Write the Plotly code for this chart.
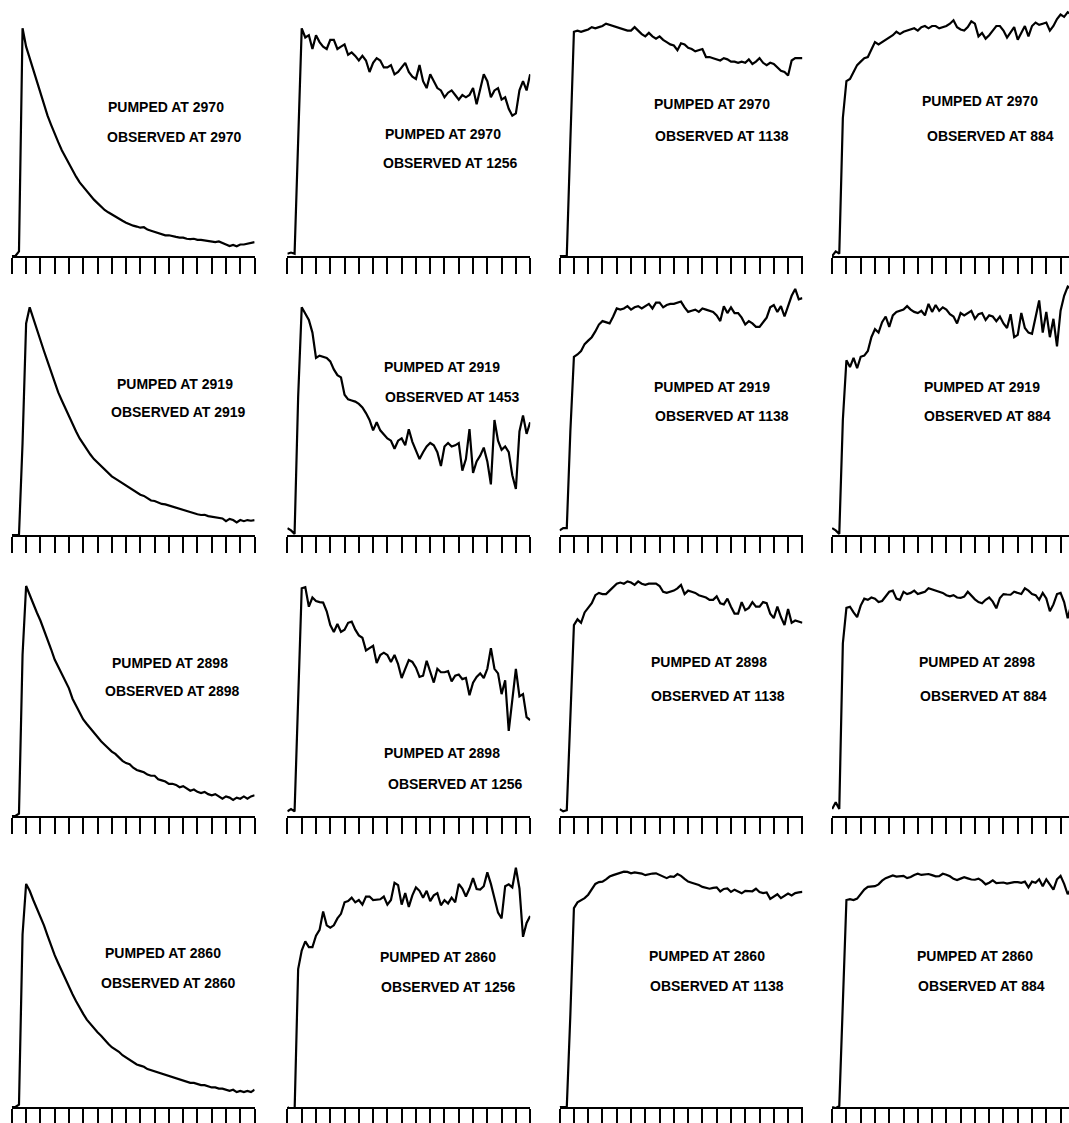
import plotly.graph_objects as go

# ---------------- data ----------------
# sample times in tick units (18 ticks = 0..17)
TIME = [0.0, 0.25, 0.5, 0.75, 1.0, 1.25, 1.5, 1.75, 2.0, 2.25, 2.5, 2.75, 3.0, 3.25, 3.5, 3.75,
        4.0, 4.25, 4.5, 4.75, 5.0, 5.25, 5.5, 5.75, 6.0, 6.25, 6.5, 6.75, 7.0, 7.25, 7.5, 7.75,
        8.0, 8.25, 8.5, 8.75, 9.0, 9.25, 9.5, 9.75, 10.0, 10.25, 10.5, 10.75, 11.0, 11.25, 11.5, 11.75,
        12.0, 12.25, 12.5, 12.75, 13.0, 13.25, 13.5, 13.75, 14.0, 14.25, 14.5, 14.75, 15.0, 15.25, 15.5, 15.75,
        16.0, 16.25, 16.5, 16.75, 17.0]

PUMPED = [2970, 2919, 2898, 2860]
OBSERVED = [[2970, 1256, 1138, 884],
            [2919, 1453, 1138, 884],
            [2898, 1256, 1138, 884],
            [2860, 1256, 1138, 884]]

r1c1 = [0, 0, 2, 99, 91, 86, 80, 75, 70, 65, 61, 57, 53, 49.5, 46, 43, 40, 37, 34.5, 32,
        30, 28, 26, 24.5, 23, 21.5, 20, 19, 18, 17, 16, 15.3, 14.5, 13.8, 13.2, 12.8,
        12.3, 12.5, 11.5, 11, 10.5, 10, 9.5, 9, 9, 8.5, 8.3, 8, 8, 7.5, 7.3, 7.5,
        7, 7, 6.8, 6.5, 6.5, 6, 6.3, 5.5, 5, 4.3, 4.8, 4.2, 5, 5, 5.3, 5.5, 6]
r1c2 = [1, 1.5, 1, 55, 99, 95, 96, 90, 96, 93, 91, 90, 94, 94, 90, 91, 92, 87.5, 88.5, 87,
        85, 87, 85, 80, 84, 86, 85, 82, 82, 83, 79, 80, 82, 84, 80, 78,
        77, 83, 76, 73, 79, 76, 73, 72, 69, 71, 72, 70, 68, 70, 69, 70,
        73, 66, 72, 79, 76, 69, 72, 73, 68, 69, 64, 61, 62, 72, 76, 72, 79]
r1c3 = [0, 0, 0, 50, 97.5, 98, 97.5, 98, 98.5, 99.5, 99, 99.5, 100, 101, 100.5, 100,
        99.5, 99, 98.5, 98, 98, 99.5, 98, 96.5, 95.5, 97, 95.5, 94.5, 95.5, 94, 93, 92,
        91.5, 89.5, 92.5, 92, 90.5, 90, 89, 89.5, 90, 86.5, 86.5, 86, 85.5, 85, 86, 85.5,
        84.5, 84.5, 84, 84.5, 84, 85.5, 83.5, 84.5, 86, 84, 83, 84, 83.5, 82, 80.5, 80,
        78.5, 85, 86, 86, 86]
r1c4 = [0, 2, 1, 60, 76, 77, 80, 83, 84.5, 86, 86.5, 90, 93, 92, 93, 94, 95, 96, 97.5, 96.5,
        97.5, 98, 98.5, 99, 98, 99.5, 100, 99, 100, 100, 99, 99.5, 100, 101, 102.5, 99.5,
        98.5, 98, 99.5, 102, 101, 95.5, 97, 94.5, 96, 98, 100, 100, 98, 95, 97, 99.5,
        94, 97, 100, 95.5, 100, 101.5, 100.5, 101, 101.5, 98, 100, 103, 105, 104, 106, 105, 106]

r2c1 = [0, 0, 0, 40, 92, 99, 94, 89, 84.5, 80, 75.5, 71, 66, 62, 58.5, 55, 51.5, 48, 45, 42,
        39.5, 37, 35, 33, 31.5, 30, 28.5, 27, 25.5, 24.5, 23.5, 22.5, 21.5, 20.5, 19.5, 18.5,
        17.5, 17, 16, 15, 14.8, 14, 13.5, 13.3, 12.8, 12.5, 12, 11.3, 11, 10.5, 10, 9.5,
        9, 8.7, 8.8, 8.2, 8, 7.5, 7.6, 7.2, 6, 7, 6.5, 5.5, 6.5, 6, 6.5, 6.2, 6.5]
r2c2 = [3, 2, 0.5, 60, 99, 96.5, 93.5, 88, 77, 78, 77.5, 77, 75.5, 72, 69.5, 68.5,
        61, 59, 58.5, 58, 57, 55.5, 53, 50, 45.5, 49, 45.5, 43.5, 42, 41, 37.5, 41,
        42, 39, 46, 40.5, 36.5, 33, 36, 38.5, 40, 39, 36, 30, 38.5, 40, 38.5, 39,
        40, 28, 33, 46, 27, 32, 34.5, 38, 32, 22, 50, 41, 37, 38.5, 36, 26, 20, 45, 52, 44, 49]
r2c3 = [2, 3, 3, 45, 77.5, 78.5, 80, 83, 84.5, 86, 88.5, 91.5, 93, 92.5, 92, 95,
        98.5, 98, 98.5, 99.5, 98, 99, 99.5, 98.5, 99.5, 100.5, 98.5, 101, 101, 99, 100, 100.5,
        100.5, 101, 101.5, 99, 97, 97.5, 98, 97, 98.5, 98, 97.5, 97, 95.5, 93, 99.5, 96.5,
        99, 96.5, 96.5, 94.5, 91.5, 93, 92, 90.5, 90.5, 92.5, 94.5, 99, 100, 97, 99.5, 95,
        100, 104, 107, 102.5, 103]
r2c4 = [3, 2, 0.5, 50, 76, 73, 77, 72.5, 77.5, 78, 80, 86, 89.5, 88, 92.5, 95,
        90.5, 95.5, 97, 97.5, 98, 99.5, 98, 97, 96.5, 97.5, 95.5, 100.5, 97, 100, 97.5, 99,
        98, 96, 95, 92, 96.5, 95.5, 96.5, 97.5, 94, 96, 96.5, 93.5, 95.5, 95, 93, 95,
        92, 90, 96, 86, 87, 96.5, 90, 88, 87.5, 95, 102, 88, 97, 86, 94, 82,
        97.5, 104, 108, 107, 108]

r3c1 = [0, 0, 1, 70, 100, 96, 92, 88.5, 85, 81, 77, 72.5, 68, 65, 62, 59, 55.5, 51, 48, 45,
        42, 40, 38, 36.5, 34, 32.5, 31, 29.5, 28, 27, 25.5, 24, 23, 22.5, 21, 20,
        19.5, 19, 18, 17.5, 17.5, 16, 15.5, 15, 14, 14, 13.5, 12.5, 13, 12, 11, 11.5,
        10.5, 10, 10.5, 9.5, 9, 9.5, 8.5, 7.5, 8.5, 8, 7, 8, 7.5, 8.5, 7.5, 8.5, 9]
r3c2 = [2, 3, 2, 55, 99, 99.5, 91, 95, 93.5, 93, 92.8, 89, 83, 80, 83.5, 80,
        81, 84, 84.5, 81, 78.5, 77.5, 72, 73, 74, 66.5, 70, 71, 70, 67, 70, 66,
        60, 64, 67.8, 67, 64.5, 60.5, 61, 67.5, 63, 58, 64, 62.5, 62.5, 63, 58.5, 61,
        61.5, 59.5, 60, 52.5, 58, 60.5, 62, 60, 64, 73, 64, 62, 53, 59, 37, 50,
        64, 52, 53, 43, 41.7]
r3c3 = [3, 2, 2.5, 40, 83, 85.5, 84, 88.5, 90.5, 92.5, 96, 97, 96.5, 96.5, 98, 99.5,
        101, 101.5, 101, 102, 101.5, 100.5, 102, 101, 100.5, 101, 101, 101, 100, 97.5, 97, 97.5,
        98, 99, 100.5, 96.5, 98, 97.5, 97, 96, 95.5, 95, 94, 94, 95.5, 92.5, 92, 94.5,
        91, 88, 88, 93, 89.5, 90.5, 93, 91, 91, 93, 92.5, 88, 86, 91, 86.5, 83,
        90, 84, 85, 84.5, 84]
r3c4 = [3, 6, 3, 75, 90.5, 91, 88.5, 86.5, 91.5, 94.5, 94, 95, 94.5, 93, 93.5, 95.5,
        97.5, 98, 94.5, 94, 97.5, 96.5, 97, 98, 96.5, 97, 97.5, 99, 98.5, 98, 97.5, 97,
        96, 95.5, 96, 95, 94.8, 95.4, 97.5, 95.7, 94.2, 93, 92.5, 94, 95, 93.2, 90.3, 94.8,
        96.5, 96.3, 96.2, 97.5, 97, 96.5, 99, 98, 96.5, 96, 94, 97, 94.6, 89, 92, 96.5,
        97, 93, 86, 92, 90]

r4c1 = [0, 0, 1, 75, 97, 94, 90, 86.5, 83, 79, 74.5, 70, 66, 62.5, 59, 56, 52.5, 49, 46, 43,
        40.5, 38, 36, 34, 32.5, 31, 29, 27.5, 26, 25, 24, 22.5, 21.5, 20.5, 19.5, 18.5,
        18, 17.5, 16.5, 16, 15.5, 15, 14.5, 14, 13.5, 13, 12.5, 12, 11.5, 11, 10.5, 10.5,
        10, 9.5, 9.5, 9, 8.5, 8.5, 8, 8, 7.5, 7, 7.5, 6.5, 7, 6.5, 7, 6.5, 7.5]
r4c2 = [0, -1.5, -2, 60, 68, 72, 69.5, 69.5, 74.5, 77, 85, 79, 78, 79, 82, 84,
        89, 89.5, 91, 89, 90, 88, 91.5, 91.5, 90, 90, 90.3, 91.5, 88, 90, 97.5, 96.5,
        88, 93, 87, 92, 95.5, 94, 91, 94, 89.5, 92, 93, 87.7, 89.9, 88.5, 91, 89,
        97, 95, 91.5, 95, 99.5, 94.8, 94.5, 96, 102, 97, 91.3, 84.5, 82, 96, 96.8, 95.5,
        104, 95, 74, 80, 83]
r4c3 = [0, 0, 0, 40, 86.5, 89, 89.8, 90.8, 92.3, 94.8, 97, 97.8, 98, 99, 100.2, 100.8,
        101.2, 101.6, 102.3, 102.2, 101.6, 102, 101.8, 101.5, 100.8, 101.2, 101.5, 101.6,
        100.9, 100, 99.5, 100.3, 100.1, 101.3, 100.5, 99.2, 98, 97.5, 97.1, 96.5,
        95.7, 95.3, 94.9, 95.3, 95.5, 93.7, 94.8, 95, 93.5, 94.5, 93.8, 92.9,
        94, 93.8, 93.8, 94.9, 93.5, 93, 93.3, 90.5, 91.5, 92.5, 90.8, 92, 92.8, 92, 93, 93.3, 93.5]
r4c4 = [0, -0.5, 0.5, 50, 90, 90.4, 90, 90.6, 92.5, 94.5, 95.7, 95.7, 96, 96.8, 98.4, 99.5,
        100.2, 100.7, 100.2, 100.3, 100.5, 99.5, 100, 100.9, 101.4, 100.9, 101, 101.3,
        100.8, 100.3, 100.4, 101.4, 101, 100.3, 99.2, 98.7, 99.3, 99.9, 99.4, 98.9,
        98.8, 99.3, 98.3, 96.8, 97.5, 98.5, 97.3, 97.6, 97.6, 97.1, 97.5, 97.8,
        97.8, 97.5, 98, 95.5, 98, 97.5, 99, 96, 99, 97, 94.5, 99, 100.5, 97, 92.5, 95, 99]

SERIES = [[r1c1, r1c2, r1c3, r1c4],
          [r2c1, r2c2, r2c3, r2c4],
          [r3c1, r3c2, r3c3, r3c4],
          [r4c1, r4c2, r4c3, r4c4]]

for row in SERIES:
    for s in row:
        assert len(s) == len(TIME), len(s)

# ---------------- layout geometry (pixels) ----------------
W, H = 1069, 1123
COL_LEFT = [11.7, 287.3, 559.5, 832.0]
PANEL_W = 243.0
ROW_BASE = [256, 535, 816, 1107]
PX_PER_UNIT = 2.3
ROW_SPAN = 256
N_TICKS = 17

# label centres (px): (pumped_x, pumped_y, observed_x, observed_y)
LABEL_POS = [
    [(166, 107, 174, 137), (443, 134, 450, 163), (712, 104, 722, 136), (980, 101, 990, 136)],
    [(175, 384, 178, 412), (442, 367, 452, 397), (712, 387, 722, 416), (982, 387, 987, 416)],
    [(170, 663, 172, 691), (442, 753, 455, 784), (709, 662, 718, 696), (977, 662, 983, 696)],
    [(163, 953, 168, 983), (438, 957, 448, 987), (707, 956, 717, 986), (975, 956, 981, 986)],
]

FONT = dict(family="Liberation Sans, Arial", size=14, color="black")

fig = go.Figure()
layout = dict(width=W, height=H, margin=dict(l=0, r=0, t=0, b=0),
              paper_bgcolor="white", plot_bgcolor="white", showlegend=False)
annotations = []

for r in range(4):
    for c in range(4):
        idx = r * 4 + c + 1
        xa = "x" if idx == 1 else f"x{idx}"
        ya = "y" if idx == 1 else f"y{idx}"
        left = COL_LEFT[c]
        right = min(left + PANEL_W, W)
        xr_end = (right - left) / PANEL_W * N_TICKS
        base = ROW_BASE[r]
        y0 = (H - base) / H
        y1 = min((H - base + ROW_SPAN) / H, 1.0)
        span_px = (y1 - y0) * H
        fig.add_trace(go.Scatter(x=TIME, y=SERIES[r][c], mode="lines",
                                 line=dict(color="black", width=2.2),
                                 xaxis=xa, yaxis=ya, hoverinfo="skip"))
        layout["xaxis" if idx == 1 else f"xaxis{idx}"] = dict(
            domain=[left / W, right / W], range=[-0.01, xr_end + 0.01], anchor=ya,
            showgrid=False, zeroline=False, showline=True, linecolor="black", linewidth=2,
            ticks="outside", ticklen=16, tickwidth=2, tickcolor="black",
            tick0=0, dtick=1, showticklabels=False, fixedrange=True)
        layout["yaxis" if idx == 1 else f"yaxis{idx}"] = dict(
            domain=[y0, y1], range=[0, span_px / PX_PER_UNIT], anchor=xa,
            visible=False, fixedrange=True)
        px, py, ox, oy = LABEL_POS[r][c]
        annotations.append(dict(x=px / W, y=1 - py / H, xref="paper", yref="paper",
                                text=f"<b>PUMPED AT {PUMPED[r]}</b>", showarrow=False,
                                xanchor="center", yanchor="middle", font=FONT))
        annotations.append(dict(x=ox / W, y=1 - oy / H, xref="paper", yref="paper",
                                text=f"<b>OBSERVED AT {OBSERVED[r][c]}</b>", showarrow=False,
                                xanchor="center", yanchor="middle", font=FONT))

layout["annotations"] = annotations
fig.update_layout(**layout)
fig.write_html("out.html", config={"displayModeBar": False},
               post_script="document.body.style.margin='0';document.body.style.padding='0';"
                           "document.documentElement.style.overflow='hidden';")
